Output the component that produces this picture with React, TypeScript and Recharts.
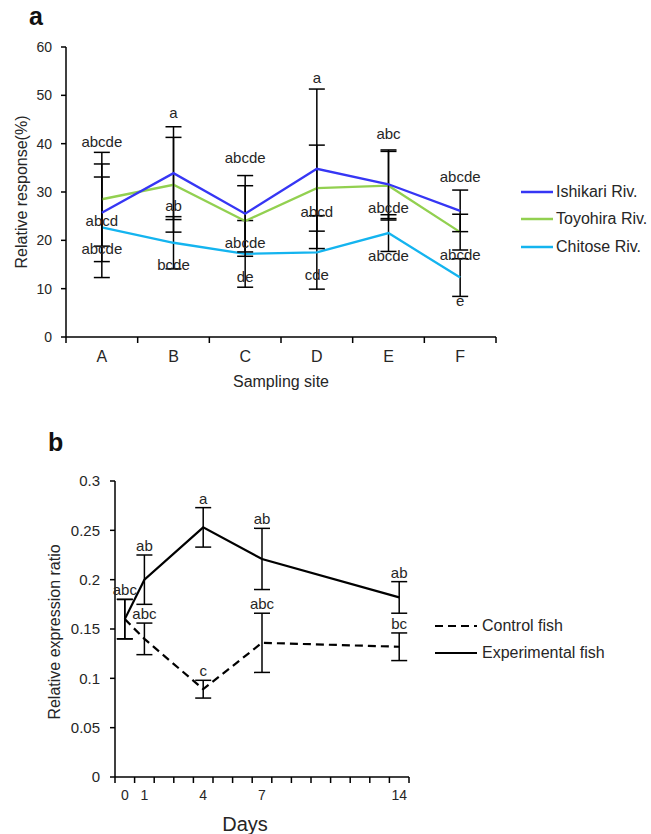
import { ComposedChart, Line, XAxis, YAxis, ErrorBar, LabelList, Legend, Label } from "recharts";

const FONT = '"Liberation Sans", Arial, sans-serif';
const INK = "#262626";

// ---- panel a: relative response by sampling site ----
const SITES = ["A", "B", "C", "D", "E", "F"];

const ISHIKARI = [25.7, 33.9, 25.5, 34.8, 31.6, 26.1];
const ISHIKARI_ERR = [10.1, 9.6, 7.9, 16.5, 7.1, 4.3];
const TOYOHIRA = [28.5, 31.5, 24.0, 30.8, 31.3, 21.7];
const TOYOHIRA_ERR = [9.7, 9.8, 7.3, 8.9, 7.1, 3.7];
const CHITOSE = [22.7, 19.5, 17.2, 17.5, 21.5, 12.3];
const CHITOSE_ERR = [10.4, 5.4, 6.9, 7.6, 3.8, 3.9];

// significance letters and where they sit (in % units)
const ISHIKARI_LETTERS = ["abcde", "a", "abcde", "a", "abc", "abcde"];
const ISHIKARI_LETTER_Y = [40.4, 46.4, 37.1, 53.6, 42.0, 33.2];
const TOYOHIRA_LETTERS = ["abcd", "ab", "abcde", "abcd", "abcde", "abcde"];
const TOYOHIRA_LETTER_Y = [24.1, 27.1, 19.5, 25.9, 26.8, 17.1];
const CHITOSE_LETTERS = ["abcde", "bcde", "de", "cde", "abcde", "e"];
const CHITOSE_LETTER_Y = [18.2, 14.9, 12.4, 12.8, 16.8, 7.5];

const SITE_TICKS = [0, 0.5, 1, 1.5, 2, 2.5, 3, 3.5, 4, 4.5, 5, 5.5, 6];
const RESPONSE_TICKS = [0, 10, 20, 30, 40, 50, 60];

const RIVER_NAMES = ["Ishikari Riv.", "Toyohira Riv.", "Chitose Riv."];
const RIVER_COLORS = ["#3636f4", "#92d050", "#14b4ef"];

// ---- panel b: expression ratio over days ----
const DAYS = [0, 1, 4, 7, 14];
const CONTROL = [0.16, 0.14, 0.089, 0.136, 0.132];
const CONTROL_ERR = [0.02, 0.016, 0.009, 0.03, 0.014];
const CONTROL_LETTERS = ["", "abc", "c", "abc", "bc"];
const EXPERIMENTAL = [0.16, 0.2, 0.253, 0.221, 0.182];
const EXPERIMENTAL_ERR = [0.02, 0.025, 0.02, 0.031, 0.016];
const EXPERIMENTAL_LETTERS = ["abc", "ab", "a", "ab", "ab"];

const DAY_BOUNDS = [-0.5, 0.5, 1.5, 2.5, 3.5, 4.5, 5.5, 6.5, 7.5, 8.5, 9.5, 10.5, 11.5, 12.5, 13.5, 14.5];
const RATIO_TICKS = [0, 0.05, 0.1, 0.15, 0.2, 0.25, 0.3];

const FISH_NAMES = ["Control fish", "Experimental fish"];
const FISH_DASH = ["8 5", undefined];

const siteRows = SITES.map((site, i) => ({
  site,
  x: i + 0.5,
  ishikari: ISHIKARI[i],
  ishikariErr: ISHIKARI_ERR[i],
  ishikariLetter: ISHIKARI_LETTERS[i],
  ishikariLetterY: ISHIKARI_LETTER_Y[i],
  toyohira: TOYOHIRA[i],
  toyohiraErr: TOYOHIRA_ERR[i],
  toyohiraLetter: TOYOHIRA_LETTERS[i],
  toyohiraLetterY: TOYOHIRA_LETTER_Y[i],
  chitose: CHITOSE[i],
  chitoseErr: CHITOSE_ERR[i],
  chitoseLetter: CHITOSE_LETTERS[i],
  chitoseLetterY: CHITOSE_LETTER_Y[i],
}));

const dayRows = DAYS.map((day, i) => ({
  day,
  control: CONTROL[i],
  controlErr: CONTROL_ERR[i],
  controlTop: CONTROL[i] + CONTROL_ERR[i],
  controlLetter: CONTROL_LETTERS[i],
  experimental: EXPERIMENTAL[i],
  experimentalErr: EXPERIMENTAL_ERR[i],
  experimentalTop: EXPERIMENTAL[i] + EXPERIMENTAL_ERR[i],
  experimentalLetter: EXPERIMENTAL_LETTERS[i],
}));

const dayTicks = [...DAY_BOUNDS, ...DAYS].sort((a, b) => a - b);

// whole numbers are category boundaries (tick marks), halves carry the site letter
function SiteTick({ x, y, payload }: any) {
  const v = payload.value as number;
  if (Number.isInteger(v)) {
    return <line x1={x} x2={x} y1={y} y2={y + 6} stroke="#000" strokeWidth={1.5} />;
  }
  return (
    <text x={x} y={y + 25} textAnchor="middle" fontSize={16} fill={INK}>
      {SITES[Math.floor(v)]}
    </text>
  );
}

function DayTick({ x, y, payload }: any) {
  const v = payload.value as number;
  if (DAYS.includes(v)) {
    return (
      <text x={x} y={y + 23} textAnchor="middle" fontSize={14} fill={INK}>
        {v}
      </text>
    );
  }
  return <line x1={x} x2={x} y1={y} y2={y + 6} stroke="#000" strokeWidth={1.5} />;
}

function RiverLegend() {
  return (
    <div style={{ fontSize: 16, color: INK }}>
      {RIVER_NAMES.map((name, i) => (
        <div key={name} style={{ display: "flex", alignItems: "center", height: 27.6 }}>
          <svg width={32} height={4}>
            <line x1={0} x2={32} y1={2} y2={2} stroke={RIVER_COLORS[i]} strokeWidth={2.5} />
          </svg>
          <span style={{ marginLeft: 3, whiteSpace: "nowrap" }}>{name}</span>
        </div>
      ))}
    </div>
  );
}

function FishLegend() {
  return (
    <div style={{ fontSize: 16, color: INK }}>
      {FISH_NAMES.map((name, i) => (
        <div key={name} style={{ display: "flex", alignItems: "center", height: 27.6 }}>
          <svg width={42} height={4}>
            <line x1={0} x2={42} y1={2} y2={2} stroke="#000" strokeWidth={2.2} strokeDasharray={FISH_DASH[i]} />
          </svg>
          <span style={{ marginLeft: 5, whiteSpace: "nowrap" }}>{name}</span>
        </div>
      ))}
    </div>
  );
}

const axisStyle = { stroke: "#000", strokeWidth: 1.5 };
const errStyle = { width: 8, stroke: "#000", strokeWidth: 1.5 };

export default function App() {
  return (
    <div
      style={{
        position: "absolute",
        left: 0,
        top: 0,
        width: 651,
        height: 834,
        background: "#fff",
        fontFamily: FONT,
        overflow: "hidden",
      }}
    >
      <div style={{ position: "absolute", left: 0, top: 0 }}>
        <ComposedChart width={651} height={400} data={siteRows} margin={{ top: 47, right: 155, bottom: 33, left: 26 }}>
          <XAxis
            dataKey="x"
            type="number"
            domain={[0, 6]}
            ticks={SITE_TICKS}
            interval={0}
            height={30}
            tickSize={0}
            tickMargin={0}
            tickLine={false}
            tick={<SiteTick />}
            axisLine={axisStyle}
          >
            <Label position="bottom" offset={9} value="Sampling site" fontSize={16} fill={INK} />
          </XAxis>
          <YAxis
            type="number"
            domain={[0, 60]}
            ticks={RESPONSE_TICKS}
            interval={0}
            width={40}
            tickSize={5}
            tickMargin={9}
            tick={{ fontSize: 14, fill: INK }}
            tickLine={axisStyle}
            axisLine={axisStyle}
          >
            <Label
              content={(p: any) => (
                <text
                  transform={`translate(${p.viewBox.x + 0.5},${p.viewBox.y + p.viewBox.height / 2}) rotate(-90)`}
                  textAnchor="middle"
                  fontSize={16}
                  fill={INK}
                >
                  Relative response(%)
                </text>
              )}
            />
          </YAxis>
          <Legend
            layout="vertical"
            align="center"
            verticalAlign="middle"
            content={<RiverLegend />}
            wrapperStyle={{ left: 521, top: 178, width: 130 }}
          />
          <Line dataKey="chitose" name="Chitose Riv." stroke={RIVER_COLORS[2]} strokeWidth={2.3} dot={false} isAnimationActive={false}>
            <ErrorBar dataKey="chitoseErr" direction="y" {...errStyle} isAnimationActive={false} />
          </Line>
          <Line dataKey="toyohira" name="Toyohira Riv." stroke={RIVER_COLORS[1]} strokeWidth={2.3} dot={false} isAnimationActive={false}>
            <ErrorBar dataKey="toyohiraErr" direction="y" {...errStyle} isAnimationActive={false} />
          </Line>
          <Line dataKey="ishikari" name="Ishikari Riv." stroke={RIVER_COLORS[0]} strokeWidth={2.3} dot={false} isAnimationActive={false}>
            <ErrorBar dataKey="ishikariErr" direction="y" {...errStyle} isAnimationActive={false} />
          </Line>
          {/* letter annotations ride on invisible lines */}
          <Line dataKey="ishikariLetterY" stroke="none" dot={false} activeDot={false} legendType="none" isAnimationActive={false}>
            <LabelList dataKey="ishikariLetter" position="center" fontSize={15} fill={INK} />
          </Line>
          <Line dataKey="toyohiraLetterY" stroke="none" dot={false} activeDot={false} legendType="none" isAnimationActive={false}>
            <LabelList dataKey="toyohiraLetter" position="center" fontSize={15} fill={INK} />
          </Line>
          <Line dataKey="chitoseLetterY" stroke="none" dot={false} activeDot={false} legendType="none" isAnimationActive={false}>
            <LabelList dataKey="chitoseLetter" position="center" fontSize={15} fill={INK} />
          </Line>
        </ComposedChart>
      </div>

      <div style={{ position: "absolute", left: 0, top: 400 }}>
        <ComposedChart width={651} height={434} data={dayRows} margin={{ top: 81, right: 242, bottom: 27, left: 65 }}>
          <XAxis
            dataKey="day"
            type="number"
            domain={[-0.5, 14.5]}
            ticks={dayTicks}
            interval={0}
            height={30}
            tickSize={0}
            tickMargin={0}
            tickLine={false}
            tick={<DayTick />}
            axisLine={axisStyle}
          >
            <Label
              content={(p: any) => (
                <text
                  x={p.viewBox.x + p.viewBox.width / 2 - 17}
                  y={p.viewBox.y + p.viewBox.height + 24}
                  textAnchor="middle"
                  fontSize={20}
                  fill={INK}
                >
                  Days
                </text>
              )}
            />
          </XAxis>
          <YAxis
            type="number"
            domain={[0, 0.3]}
            ticks={RATIO_TICKS}
            interval={0}
            width={50}
            tickSize={5}
            tickMargin={10}
            tick={{ fontSize: 15, fill: INK }}
            tickLine={axisStyle}
            axisLine={axisStyle}
          >
            <Label
              content={(p: any) => (
                <text
                  transform={`translate(${p.viewBox.x - 5},${p.viewBox.y + p.viewBox.height / 2 + 3}) rotate(-90)`}
                  textAnchor="middle"
                  fontSize={16}
                  fill={INK}
                >
                  Relative expression ratio
                </text>
              )}
            />
          </YAxis>
          <Legend
            layout="vertical"
            align="center"
            verticalAlign="middle"
            content={<FishLegend />}
            wrapperStyle={{ left: 435, top: 212, width: 200 }}
          />
          <Line dataKey="control" name="Control fish" stroke="#000" strokeWidth={2.2} strokeDasharray="8 5" dot={false} isAnimationActive={false}>
            <ErrorBar dataKey="controlErr" direction="y" {...errStyle} isAnimationActive={false} />
          </Line>
          <Line dataKey="experimental" name="Experimental fish" stroke="#000" strokeWidth={2.2} dot={false} isAnimationActive={false}>
            <ErrorBar dataKey="experimentalErr" direction="y" {...errStyle} isAnimationActive={false} />
          </Line>
          <Line dataKey="controlTop" stroke="none" dot={false} activeDot={false} legendType="none" isAnimationActive={false}>
            <LabelList dataKey="controlLetter" position="top" offset={4} fontSize={15} fill={INK} />
          </Line>
          <Line dataKey="experimentalTop" stroke="none" dot={false} activeDot={false} legendType="none" isAnimationActive={false}>
            <LabelList dataKey="experimentalLetter" position="top" offset={4} fontSize={15} fill={INK} />
          </Line>
        </ComposedChart>
      </div>

      <div style={{ position: "absolute", left: 29, top: 4, fontSize: 25, lineHeight: "25px", fontWeight: 700, color: "#111" }}>a</div>
      <div style={{ position: "absolute", left: 48, top: 430, fontSize: 25, lineHeight: "25px", fontWeight: 700, color: "#111" }}>b</div>
    </div>
  );
}
